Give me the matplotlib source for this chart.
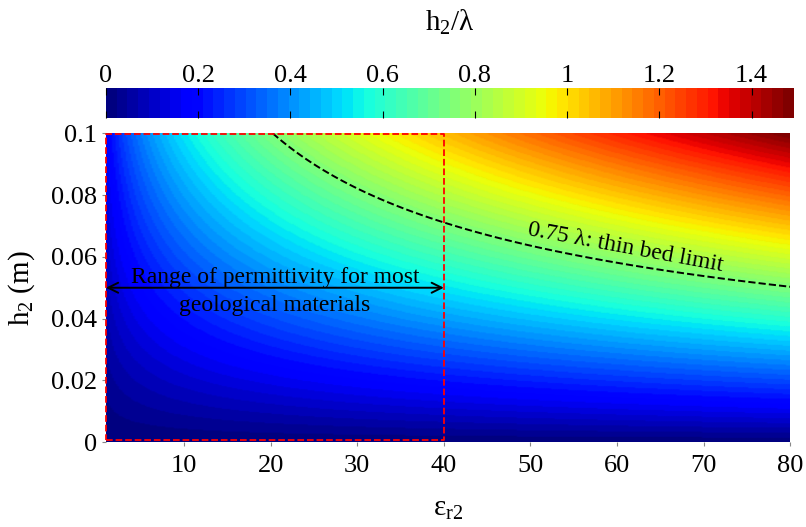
import numpy as np
import matplotlib
matplotlib.use("Agg")
import matplotlib.pyplot as plt

plt.rcParams['font.family'] = ['Liberation Serif', 'DejaVu Serif']
plt.rcParams['mathtext.fontset'] = 'custom'
plt.rcParams['mathtext.rm'] = 'Liberation Serif'
plt.rcParams['mathtext.it'] = 'Liberation Serif:italic'

# physical setup: h2/lambda with lambda = c / (f * sqrt(eps_r2))
freq = 500e6          # Hz
c0 = 3e8              # m/s
eps_r2 = np.linspace(1, 80, 400)
h2 = np.linspace(0, 0.1, 300)
thin_bed = 0.75       # thin bed limit, in wavelengths
geo_range = [1, 40]   # permittivity range for most geological materials

x_ticks = [10, 20, 30, 40, 50, 60, 70, 80]
y_ticks = [0, 0.02, 0.04, 0.06, 0.08, 0.1]
y_labels = ['0', '0.02', '0.04', '0.06', '0.08', '0.1']
cb_ticks = [0, 0.2, 0.4, 0.6, 0.8, 1.0, 1.2, 1.4]
cb_labels = ['0', '0.2', '0.4', '0.6', '0.8', '1', '1.2', '1.4']

E, H = np.meshgrid(eps_r2, h2)
ratio = H * freq * np.sqrt(E) / c0

fig = plt.figure(figsize=(8.06, 5.27), dpi=100)
ax = fig.add_axes([0.1315, 0.161, 0.849, 0.586])
cax = fig.add_axes([0.1315, 0.776, 0.853, 0.057])

cmap = plt.get_cmap('jet', 64)
mesh = ax.pcolormesh(E, H, ratio, cmap=cmap, vmin=0, vmax=ratio.max(), shading='gouraud')
ax.contour(E, H, ratio, levels=[thin_bed], colors='k', linestyles='--', linewidths=1.4)

# red dashed box
ax.plot([geo_range[0], geo_range[1], geo_range[1], geo_range[0], geo_range[0]],
        [0.0008, 0.0008, 0.0998, 0.0998, 0.0008], color='red', ls='--', lw=1.3, clip_on=False)

ax.annotate('', xy=(geo_range[0], 0.05), xytext=(geo_range[1], 0.05),
            arrowprops=dict(arrowstyle='<->', color='k', lw=1.4, shrinkA=0, shrinkB=0,
                            mutation_scale=18))
ax.text(20.5, 0.0532, 'Range of permittivity for most', ha='center', va='center', fontsize=17)
ax.text(20.5, 0.0442, 'geological materials', ha='center', va='center', fontsize=17)
ax.text(61, 0.0630, '0.75 λ: thin bed limit', ha='center', va='center', fontsize=17,
        rotation=-10.5)

ax.set_xlim(1, 80)
ax.set_ylim(0, 0.1)
ax.set_xticks(x_ticks)
ax.set_yticks(y_ticks)
ax.set_yticklabels(y_labels)
ax.tick_params(labelsize=19, length=3, color='#888888')
ax.tick_params(axis='x', pad=6)
for s in ax.spines.values():
    s.set_visible(False)
ax.set_xlabel('ε$_\\mathrm{r2}$', fontsize=21, labelpad=14)
ax.set_ylabel('h$_\\mathrm{2}$ (m)', fontsize=21, labelpad=10)

cb = fig.colorbar(mesh, cax=cax, orientation='horizontal')
cb.set_ticks(cb_ticks)
cb.set_ticklabels(cb_labels)
cax.xaxis.set_ticks_position('both')
cax.xaxis.set_label_position('top')
cax.tick_params(labelsize=19, direction='in', length=5, labeltop=True, labelbottom=False, pad=1)
cb.outline.set_visible(False)
cb.set_label('h$_\\mathrm{2}$/λ', fontsize=21, labelpad=24)

fig.savefig('out.png', dpi=100)
